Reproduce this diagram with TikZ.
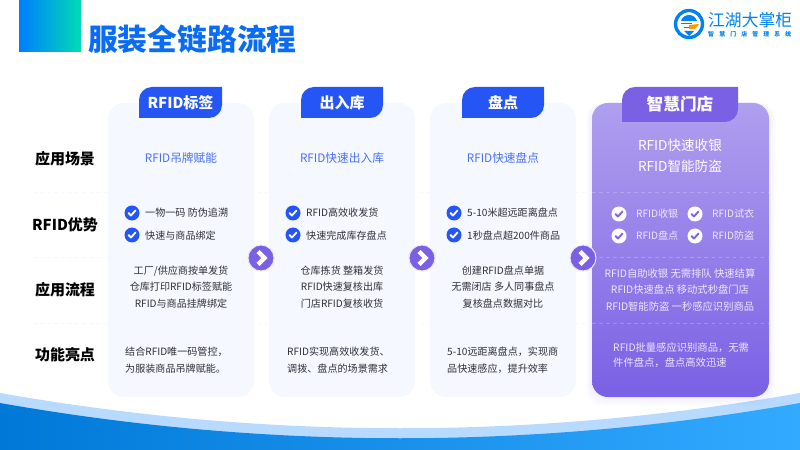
\documentclass[tikz,border=0pt]{standalone}
\usepackage{fontspec}
\setmainfont{Noto Sans CJK SC}
\usetikzlibrary{positioning}
\definecolor{guideBlue}{RGB}{37,86,245}
\definecolor{guidePurple}{RGB}{122,96,228}
\definecolor{guideCard}{RGB}{245,248,255}
\definecolor{guideLabel}{RGB}{74,112,245}
\definecolor{guideText}{RGB}{48,48,54}
\definecolor{guidePale}{RGB}{236,232,253}
\definecolor{guideTitle}{RGB}{10,108,245}
\definecolor{guideLogo}{RGB}{0,130,240}
\definecolor{guideWaveLight}{RGB}{185,218,255}
\definecolor{guideWaveLeft}{RGB}{0,120,215}
\definecolor{guideWaveRight}{RGB}{50,170,255}
\definecolor{guideBoxLeft}{RGB}{0,125,255}
\definecolor{guideBoxRight}{RGB}{0,220,180}
\tikzset{
  rowhead/.style={font=\fontsize{12.8}{15}\selectfont\bfseries,text=black},
  tabtext/.style={font=\fontsize{12.8}{15}\selectfont\bfseries,text=white},
  scenetext/.style={font=\fontsize{10}{15}\selectfont,text=guideLabel},
  listtext/.style={font=\fontsize{8.6}{14.2}\selectfont,text=guideText,align=center},
  notetext/.style={font=\fontsize{8.6}{14.2}\selectfont,text=guideText,align=left},
  tickdot/.style={circle,fill=guideBlue,minimum size=4.5mm,inner sep=0pt},
  tickline/.style={white,line width=0.55mm,line cap=round,line join=round},
  stepdot/.style={circle,fill=guidePurple,draw=white!85!guidePurple,line width=0.3mm,minimum size=7.8mm,inner sep=0pt},
  stepline/.style={white,line width=1.3mm,line join=miter},
}
\begin{document}
\begin{tikzpicture}[x=0.3mm,y=-0.3mm]
    \useasboundingbox (0,0) rectangle (800,450);
    % header
    \shade[left color=guideBoxLeft,right color=guideBoxRight] (19,0) rectangle (81,52);
    \node[anchor=west,font=\fontsize{25.4}{30}\selectfont\bfseries,text=guideTitle,inner sep=0pt] (pageTitle) at (88,39) {服装全链路流程};
    % logo
    \draw[guideLogo,line width=1mm] (689,24) circle (13.5);
    \fill[guideLogo] (681,21) .. controls (683,13) and (695,13) .. (697,21) -- cycle;
    \draw[guideLogo,line width=0.3mm] (681,24) -- (692,24) (684,28) -- (692,28);
    \fill[orange!80!yellow] (689,25) -- (699,24) -- (695,29) -- (689,29) -- cycle;
    \fill[guideLogo] (684,31) -- (694,31) -- (689,36) -- cycle;
    \node[anchor=west,font=\fontsize{14.3}{16}\selectfont,text=guideLogo,inner sep=0pt] (logoName) at (708,20) {江湖大掌柜};
    \node[anchor=west,font=\fontsize{5}{6}\selectfont\bfseries\addfontfeature{LetterSpace=88},text=guideLogo,inner sep=0pt] (logoSub) at (708,34) {智慧门店管理系统};
    % bottom waves
    \fill[guideWaveLight] (0,393) .. controls (267,440) and (533,440) .. (800,393) -- (800,450) -- (0,450) -- cycle;
    \shade[left color=guideWaveLeft,right color=guideWaveRight] (0,403) .. controls (267,450) and (533,450) .. (800,403) -- (800,450) -- (0,450) -- cycle;
    % cards
    \foreach \xa/\xb in {108/254,269/415,430/576}{
      \fill[guideCard,rounded corners=4.8mm] (\xa,103) rectangle (\xb,397);
    }
    \foreach \i in {1,...,6}{
      \fill[guidePurple,opacity=0.015,rounded corners=4.8mm] (592-\i,103) rectangle (769+\i,397+\i*1.5);
    }
    \shade[top color=guidePurple!60!white,bottom color=guidePurple,rounded corners=4.8mm] (592,103) rectangle (769,397);
    % row separators
    \foreach \y in {192,257,323}{
      \draw[guideCard,dashed,line width=0.25mm] (33,\y) -- (592,\y);
      \draw[white,opacity=0.22,dashed,line width=0.25mm] (592,\y) -- (769,\y);
    }
    % tabs
    \foreach \xa/\xb/\nm/\lab in {139/222/tabTag/RFID标签,301/383/tabStock/出入库,462/544/tabCount/盘点}{
      \fill[guideBlue] (\xa,118) [rounded corners=3.9mm] -- (\xa,87) [sharp corners] -- (\xb,87) [rounded corners=3.9mm] -- (\xb,118) [sharp corners] -- cycle;
      \node[tabtext] (\nm) at ({(\xa+\xb)/2},102.5) {\lab};
    }
    \fill[guidePurple] (622,122) [rounded corners=3.9mm] -- (622,87) [sharp corners] -- (738,87) [rounded corners=3.9mm] -- (738,122) [sharp corners] -- cycle;
    \node[tabtext,font=\fontsize{14.2}{16}\selectfont\bfseries] (tabStore) at (680,104.5) {智慧门店};
    % row heads
    \foreach \y/\nm/\lab in {159/headScene/应用场景,225/headGain/RFID优势,290/headFlow/应用流程,355/headNote/功能亮点}{
      \node[rowhead] (\nm) at (65,\y) {\lab};
    }
    % scene row
    \foreach \x/\nm/\lab in {181/sceneTag/RFID吊牌赋能,342/sceneStock/RFID快速出入库,503/sceneCount/RFID快速盘点}{
      \node[scenetext] (\nm) at (\x,158) {\lab};
    }
    \node[scenetext,font=\fontsize{11.6}{17.8}\selectfont,text=white,align=center] (sceneStore) at (680,155.5) {RFID快速收银\\RFID智能防盗};
    % tick rows
    \foreach \x in {132,293,454}{
      \foreach \y in {213,235}{
        \node[tickdot] (tick\x-\y) at (\x,\y) {};
        \draw[tickline] (\x-3.5,\y) -- (\x-1,\y+2.5) -- (\x+3.5,\y-2.5);
      }
    }
    \foreach \x in {619,695}{
      \foreach \y in {214,236}{
        \node[tickdot,fill=white] (tick\x-\y) at (\x,\y) {};
        \draw[tickline,guidePurple] (\x-3.5,\y) -- (\x-1,\y+2.5) -- (\x+3.5,\y-2.5);
      }
    }
    \foreach \x/\y/\nm/\lab in {145/213/gainA/一物一码 防伪追溯,145/236/gainB/快速与商品绑定,306/213/gainC/RFID高效收发货,306/236/gainD/快速完成库存盘点,467/213/gainE/5-10米超远距离盘点,467/236/gainF/1秒盘点超200件商品}{
      \node[listtext,anchor=west,inner sep=0pt] (\nm) at (\x,\y) {\lab};
    }
    \foreach \x/\y/\nm/\lab in {636/214/gainG/RFID收银,712/214/gainH/RFID试衣,636/236/gainI/RFID盘点,712/236/gainJ/RFID防盗}{
      \node[listtext,anchor=west,inner sep=0pt,text=guidePale] (\nm) at (\x,\y) {\lab};
    }
    % flow row
    \node[listtext] (flowTag) at (181,287) {工厂/供应商按单发货\\仓库打印RFID标签赋能\\RFID与商品挂牌绑定};
    \node[listtext] (flowStock) at (342,287) {仓库拣货 整箱发货\\RFID快速复核出库\\门店RFID复核收货};
    \node[listtext] (flowCount) at (503,287) {创建RFID盘点单据\\无需闭店 多人同事盘点\\复核盘点数据对比};
    \node[listtext,text=guidePale,font=\fontsize{8.8}{14.2}\selectfont] (flowStore) at (680,290) {RFID自助收银 无需排队 快速结算\\RFID快速盘点 移动式秒盘门店\\RFID智能防盗 一秒感应识别商品};
    % note row
    \node[notetext,anchor=west,inner sep=0pt] (noteTag) at (125,360) {结合RFID唯一码管控，\\为服装商品吊牌赋能。};
    \node[notetext,anchor=west,inner sep=0pt] (noteStock) at (287,360) {RFID实现高效收发货、\\调拨、盘点的场景需求};
    \node[notetext,anchor=west,inner sep=0pt] (noteCount) at (447,360) {5-10远距离盘点，实现商\\品快速感应，提升效率};
    \node[notetext,anchor=west,inner sep=0pt,text=guidePale,font=\fontsize{8.8}{13}\selectfont] (noteStore) at (613,355) {RFID批量感应识别商品，无需\\件件盘点，盘点高效迅速};
    % step marks
    \foreach \x/\nm in {261/stepA,422/stepB,583/stepC}{
      \node[stepdot] (\nm) at (\x,258) {};
      \draw[stepline] (\x-3,251.5) -- (\x+3.5,258) -- (\x-3,264.5);
    }
  \end{tikzpicture}
\end{document}
